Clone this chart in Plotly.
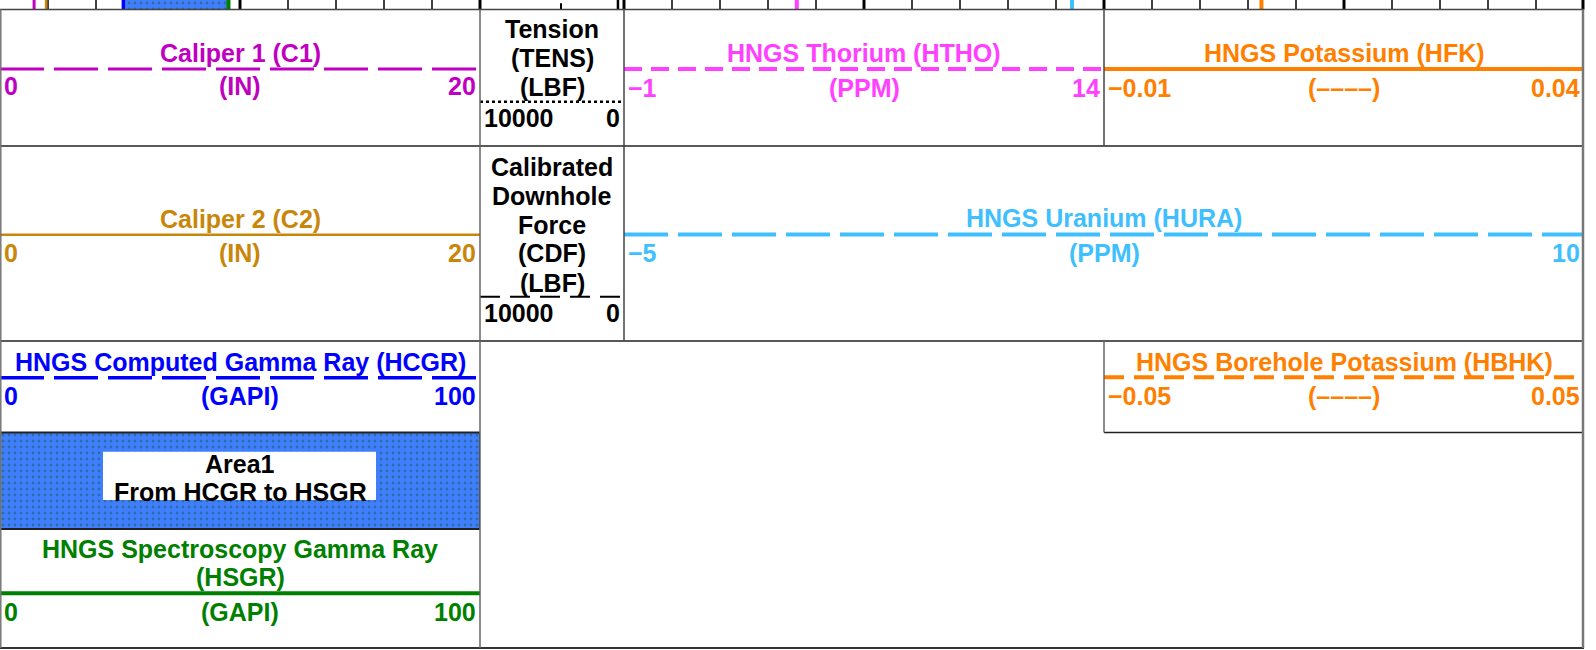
import plotly.graph_objects as go

W, H = 1596, 650

# ---------------- data ----------------
mnemonics    = ["C1", "C2", "TENS", "CDF", "HTHO", "HFK", "HURA", "HCGR", "HBHK", "HSGR"]
left_values  = [0, 0, 10000, 10000, -1, -0.01, -5, 0, -0.05, 0]
right_values = [20, 20, 0, 0, 14, 0.04, 10, 100, 0.05, 100]
left_labels  = ["0", "0", "10000", "10000", "−1", "−0.01", "−5", "0", "−0.05", "0"]
right_labels = ["20", "20", "0", "0", "14", "0.04", "10", "100", "0.05", "100"]
unit_labels  = ["(IN)", "(IN)", "", "", "(PPM)", "(––––)", "(PPM)", "(GAPI)", "(––––)", "(GAPI)"]
title_lines  = [["Caliper 1 (C1)"], ["Caliper 2 (C2)"],
                ["Tension", "(TENS)", "(LBF)"],
                ["Calibrated", "Downhole", "Force", "(CDF)", "(LBF)"],
                ["HNGS Thorium (HTHO)"], ["HNGS Potassium (HFK)"],
                ["HNGS Uranium (HURA)"], ["HNGS Computed Gamma Ray (HCGR)"],
                ["HNGS Borehole Potassium (HBHK)"],
                ["HNGS Spectroscopy Gamma Ray", "(HSGR)"]]
# curve readings at the top of the log body strip
top_values   = [1.42, 1.92, 420, None, 4.4, 0.0064, 2.0, 25.7, None, 47.6]
area_from, area_to = "HCGR", "HSGR"
area_label = ["Area1", "From HCGR to HSGR"]
grid_divisions = 10

# ---------------- styles / positions ----------------
colors = {"C1": "#C000C0", "C2": "#C8870A", "TENS": "#000000", "CDF": "#000000",
          "HTHO": "#FF40FF", "HFK": "#FF8000", "HURA": "#40BFFF", "HCGR": "#0000FF",
          "HBHK": "#FF8000", "HSGR": "#008000"}
place = {
    "C1":   dict(span=(0, 480),     titles=[53],   line=69,    labels=86,    dash="44px,10px", width=3),
    "C2":   dict(span=(0, 480),     titles=[219],  line=234.7, labels=253,   dash="solid",     width=2.5),
    "TENS": dict(span=(480, 624),   titles=[29, 58, 87], line=101.7, labels=118, dash="3px,3px", width=2.5),
    "CDF":  dict(span=(480, 624),   titles=[166.7, 196, 225, 253, 282.7], line=296.7, labels=313, dash="20px,10px", width=2),
    "HTHO": dict(span=(624, 1104),  titles=[53],   line=69,    labels=88,    dash="18px,9px",  width=4),
    "HFK":  dict(span=(1104, 1584), titles=[53],   line=69,    labels=88,    dash="solid",     width=4),
    "HURA": dict(span=(624, 1584),  titles=[218],  line=234.5, labels=253,   dash="44px,10px", width=4),
    "HCGR": dict(span=(0, 480),     titles=[361.7], line=377.7, labels=396,  dash="44px,10px", width=3.5),
    "HBHK": dict(span=(1104, 1584), titles=[361.7], line=377.3, labels=396,  dash="20px,10px", width=4),
    "HSGR": dict(span=(0, 480),     titles=[549, 577], line=593.3, labels=611.7, dash="solid", width=4),
}
STRIP = 9.5          # bottom of the top log-body strip
AREA_Y = (432.5, 529)
AREA_BOX = (103, 376, 451.7, 500)
FONT = "Liberation Sans, Arial, sans-serif"
FS = 25

fig = go.Figure()
layout_axes = {}
shapes = []
annotations = []

def ann(text, x, y, color, xref="x", xanchor="center", xshift=0):
    annotations.append(dict(text=text, x=x, y=y, xref=xref, yref="y", showarrow=False,
                            xanchor=xanchor, yanchor="middle", xshift=xshift,
                            font=dict(family=FONT, size=FS, color=color, weight="bold")))

pattern = dict(shape=".", bgcolor="#3F7FFF", fgcolor="#1E5A4A", size=6, solidity=0.18)
axis_of = {}
for i, m in enumerate(mnemonics):
    axis_of[m] = f"x{i + 2}"

# area fill: legend patch and top-strip fill between the two curves (drawn first)
ia, ib = mnemonics.index(area_from), mnemonics.index(area_to)
la, ra = left_values[ia], right_values[ia]
fig.add_trace(go.Scatter(x=[la, ra, ra, la, la], y=[AREA_Y[0], AREA_Y[0], AREA_Y[1], AREA_Y[1], AREA_Y[0]],
                         xaxis=axis_of[area_from], yaxis="y", mode="lines", fill="toself",
                         fillcolor="#3F7FFF", fillpattern=pattern,
                         line=dict(color="#222222", width=2), hoverinfo="skip", showlegend=False))
va, vb = top_values[ia], top_values[ib]
fig.add_trace(go.Scatter(x=[va, vb, vb, va, va], y=[0, 0, STRIP, STRIP, 0],
                         xaxis=axis_of[area_from], yaxis="y", mode="none", fill="toself",
                         fillcolor="#3F7FFF", fillpattern=pattern, hoverinfo="skip", showlegend=False))

for i, m in enumerate(mnemonics):
    p = place[m]
    ax = axis_of[m]
    n = ax[1:]
    l, r = left_values[i], right_values[i]
    layout_axes[f"xaxis{n}"] = dict(domain=[p["span"][0] / W, p["span"][1] / W], range=[l, r],
                                    anchor="y", visible=False, fixedrange=True)
    c = colors[m]
    # header scale line
    fig.add_trace(go.Scatter(x=[l, r], y=[p["line"], p["line"]], xaxis=ax, yaxis="y",
                             mode="lines", line=dict(color=c, width=p["width"], dash=p["dash"]),
                             hoverinfo="skip", showlegend=False))
    # top strip reading
    if top_values[i] is not None:
        fig.add_trace(go.Scatter(x=[top_values[i], top_values[i]], y=[0, STRIP], xaxis=ax, yaxis="y",
                                 mode="lines", line=dict(color=c, width=max(2, p["width"])),
                                 hoverinfo="skip", showlegend=False))
    cx = (p["span"][0] + p["span"][1]) / 2
    for t, ty in zip(title_lines[i], p["titles"]):
        ann(t, cx, ty, c)
    ann(left_labels[i], l, p["labels"], c, xref=ax, xanchor="left", xshift=2)
    ann(right_labels[i], r, p["labels"], c, xref=ax, xanchor="right", xshift=-2)
    if unit_labels[i]:
        ann(unit_labels[i], (l + r) / 2, p["labels"], c, xref=ax)

shapes.append(dict(type="rect", xref="x", yref="y", x0=AREA_BOX[0], x1=AREA_BOX[1],
                   y0=AREA_BOX[2], y1=AREA_BOX[3], fillcolor="white", line=dict(width=0), layer="above"))
ann(area_label[0], 240, 464, "black")
ann(area_label[1], 240, 491.5, "black")

# ---------------- grid in the top strip ----------------
def vline(x, y0, y1, color="#000000", width=1.5, layer="above"):
    shapes.append(dict(type="line", xref="x", yref="y", x0=x, x1=x, y0=y0, y1=y1,
                       line=dict(color=color, width=width), layer=layer))

def hline(y, x0, x1, color="#222222", width=1.5):
    shapes.append(dict(type="line", xref="x", yref="y", x0=x0, x1=x1, y0=y, y1=y,
                       line=dict(color=color, width=width), layer="above"))

for (a, b) in [(0, 480), (624, 1104), (1104, 1584)]:
    step = (b - a) / grid_divisions
    for k in range(1, grid_divisions):
        x = a + k * step
        vline(x, 0, STRIP, width=3 if k == grid_divisions // 2 else 1.5, layer="below")
for x in [480, 624, 1104, 1583]:
    vline(x, 0, STRIP, width=3, layer="below")
vline(561, 3.3, STRIP, width=2, layer="below")

# ---------------- header borders ----------------
hline(STRIP, 0, 1584, color="#444444", width=1.5)
hline(146, 0, 1584)
hline(341, 0, 1584)
hline(AREA_Y[1], 0, 480)
hline(432.5, 1104, 1584)
hline(648, 0, 1584, color="#333333", width=2)
vline(0.8, STRIP, 648, color="#777777", width=1.5)
vline(480, STRIP, 648, color="#666666", width=1.5)
vline(624, STRIP, 341, color="#444444", width=1.5)
vline(1104, STRIP, 146, color="#444444", width=1.5)
vline(1104, 341, 432.5, color="#666666", width=1.5)
vline(1583, STRIP, 648, color="#777777", width=2.5)

fig.update_layout(
    width=W, height=H, margin=dict(l=0, r=0, t=0, b=0),
    paper_bgcolor="white", plot_bgcolor="rgba(0,0,0,0)", showlegend=False,
    xaxis=dict(domain=[0, 1], range=[0, W], visible=False, fixedrange=True, anchor="y"),
    yaxis=dict(domain=[0, 1], range=[H, 0], visible=False, fixedrange=True, anchor="x"),
    shapes=shapes, annotations=annotations, **layout_axes,
)
fig.write_html("out.html", config={"displayModeBar": False},
               post_script="document.body.style.margin='0';document.body.style.overflow='hidden';")
